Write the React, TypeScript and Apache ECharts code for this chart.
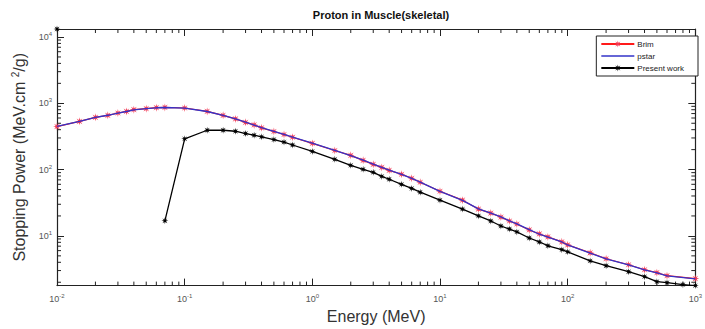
import React, { useEffect, useRef } from "react";
import * as echarts from "echarts";

const TITLE = "Proton in Muscle(skeletal)";
const X_NAME = "Energy (MeV)";
const SERIES_NAMES = ["Brim", "pstar", "Present work"];

const energyRef = [
  0.01, 0.015, 0.02, 0.025, 0.03, 0.035, 0.04, 0.05, 0.06, 0.07,
  0.1, 0.15, 0.2, 0.25, 0.3, 0.35, 0.4, 0.5, 0.6, 0.7,
  1, 1.5, 2, 2.5, 3, 3.5, 4, 5, 6, 7,
  10, 15, 20, 25, 30, 35, 40, 50, 60, 70, 90,
  100, 150, 200, 300, 400, 500, 600, 1000,
];
const brim = [
  446, 535, 614, 658, 714, 755, 801, 830, 859, 867,
  849, 755, 658, 581, 516, 472, 426, 375, 338, 308,
  248, 194, 164, 138, 120, 108, 97.5, 85, 74, 64.4,
  47.2, 34.6, 25.4, 22.1, 19.2, 16.8, 15.1, 12.3, 10.7, 9.66, 8.13,
  7.33, 5.56, 4.52, 3.67, 3.09, 2.79, 2.51, 2.27,
];
const pstar = [
  448, 533, 612, 660, 712, 752, 798, 832, 856, 864,
  846, 752, 660, 583, 518, 470, 428, 378, 340, 310,
  250, 195, 163, 139, 121, 108, 98, 84.5, 73.5, 64.8,
  47.0, 34.4, 25.6, 22.0, 19.3, 16.9, 15.2, 12.4, 10.6, 9.6, 8.1,
  7.3, 5.5, 4.5, 3.65, 3.08, 2.77, 2.5, 2.25,
];
const energyWork = [
  0.01, 0.05, 0.07, 0.1, 0.15, 0.2, 0.25, 0.3, 0.35, 0.4, 0.5, 0.6, 0.7,
  1, 1.5, 2, 2.5, 3, 3.5, 4, 5, 6, 7,
  10, 15, 20, 25, 30, 35, 40, 50, 60, 70, 90,
  100, 150, 200, 300, 400, 500, 600, 800, 1000,
];
const presentWork: (number | null)[] = [
  13200, null, 16.9, 291, 392, 392, 379, 350, 330, 312, 284, 260, 235,
  188, 143, 116, 101, 91, 79, 71.5, 60, 52, 45.6,
  34.6, 25.4, 20, 16.8, 14.1, 12.7, 11.5, 9.3, 8.1, 7.1, 6.2,
  5.75, 4.2, 3.55, 2.88, 2.43, 2.04, 1.97, 1.84, 1.78,
];
const xMinorMult = [2, 3, 4, 5, 6, 7, 8, 9];
const xDecades = [-2, -1, 0, 1, 2];
const yDecades = [0, 1, 2, 3, 4];

function starPath() {
  const pts: string[] = [];
  for (let k = 0; k < 16; k++) {
    const a = (k * Math.PI) / 8 - Math.PI / 2;
    const r = k % 2 === 0 ? 10 : 3.6;
    pts.push(`${(10 + r * Math.cos(a)).toFixed(2)} ${(10 + r * Math.sin(a)).toFixed(2)}`);
  }
  return "path://M" + pts.join(" L") + " Z";
}

export default function App() {
  const ref = useRef<HTMLDivElement>(null);
  useEffect(() => {
    document.body.style.margin = "0";
    const chart = echarts.init(ref.current!, null, { renderer: "svg" });
    const allVals = [...brim, ...pstar, ...(presentWork.filter((v) => v !== null) as number[])];
    const YMIN = Math.min(...allVals);
    const YMAX = Math.max(...allVals);
    const XMIN = Math.min(...energyRef, ...energyWork);
    const XMAX = Math.max(...energyRef, ...energyWork);
    const STAR = starPath();
    const font = "Liberation Sans";
    const axisColor = "#222";
    const labelFmt = (v: number) => `10{sup|${Math.round(Math.log10(v))}}`;
    const labelRich = {
      sup: { fontSize: 6, verticalAlign: "top", padding: [0, 0, 6, 0], color: "#555", fontFamily: font },
    };
    const baseAxis = {
      type: "log",
      logBase: 10,
      axisLine: { show: true, lineStyle: { color: axisColor, width: 1.2 } },
      axisTick: { show: true, inside: true, length: 7, lineStyle: { color: axisColor } },
      splitLine: { show: false },
      minorTick: { show: false },
    };
    const xMinors: number[][] = [];
    xDecades.forEach((d) => xMinorMult.forEach((m) => xMinors.push([m * Math.pow(10, d), YMIN])));
    const yMinors: number[][] = [];
    yDecades.forEach((d) =>
      xMinorMult.forEach((m) => {
        const v = m * Math.pow(10, d);
        if (v > YMIN && v < YMAX) yMinors.push([XMIN, v]);
      })
    );
    const tickStyle = { stroke: axisColor, lineWidth: 1 };

    chart.setOption({
      animation: false,
      grid: { left: 57, right: 4, top: 29, bottom: 42, containLabel: false },
      graphic: [
        {
          type: "text",
          x: 381,
          y: 15,
          style: {
            text: TITLE,
            fontSize: 11,
            fontWeight: "bold",
            fontFamily: font,
            fill: "#111",
            textAlign: "center",
            textVerticalAlign: "middle",
          },
        },
      ],
      legend: {
        data: [
          { name: "Brim" },
          { name: "pstar", icon: "path://M0 0 H33 V1.4 H0 Z", itemStyle: { color: "#3333c8" } },
          { name: "Present work" },
        ],
        orient: "vertical",
        right: 7,
        top: 36,
        itemWidth: 33,
        itemHeight: 9,
        itemGap: 4,
        padding: [4, 14, 4, 4],
        backgroundColor: "#fff",
        borderColor: "#222",
        borderWidth: 1,
        borderRadius: 0,
        textStyle: { fontSize: 8, fontFamily: font, color: "#222", padding: [0, 0, 0, -2] },
      },
      xAxis: [
        {
          ...baseAxis,
          min: XMIN,
          max: XMAX,
          position: "bottom",
          name: X_NAME,
          nameLocation: "middle",
          nameGap: 17,
          nameTextStyle: { fontSize: 16, fontFamily: font, color: "#333", verticalAlign: "top" },
          axisLabel: {
            formatter: labelFmt,
            rich: labelRich,
            fontSize: 9,
            color: "#555",
            fontFamily: font,
            margin: 7,
          },
        },
        {
          ...baseAxis,
          min: XMIN,
          max: XMAX,
          position: "top",
          axisLabel: { show: false },
        },
      ],
      yAxis: [
        {
          ...baseAxis,
          min: YMIN,
          max: YMAX,
          position: "left",
          name: "Stopping Power (MeV.cm {sup|2}/g)",
          nameLocation: "middle",
          nameGap: 26,
          nameTextStyle: {
            fontSize: 16,
            fontFamily: font,
            color: "#333",
            rich: { sup: { fontSize: 10, verticalAlign: "top", padding: [0, 0, 8, 0], fontFamily: font, color: "#333" } },
          },
          axisLabel: {
            formatter: labelFmt,
            rich: labelRich,
            fontSize: 9,
            color: "#555",
            fontFamily: font,
            margin: 5,
            showMinLabel: false,
            showMaxLabel: false,
          },
        },
        {
          ...baseAxis,
          min: YMIN,
          max: YMAX,
          position: "right",
          axisLabel: { show: false },
        },
      ],
      series: [
        {
          name: "Brim",
          type: "line",
          data: energyRef.map((e, i) => [e, brim[i]]),
          symbol: STAR,
          symbolSize: 8,
          showAllSymbol: true,
          lineStyle: { color: "#ff1a1a", width: 1.2 },
          itemStyle: { color: "#f23a55" },
          z: 3,
        },
        {
          name: "pstar",
          type: "line",
          data: energyRef.map((e, i) => [e, pstar[i]]),
          symbol: "none",
          lineStyle: { color: "#3333c8", width: 1.3 },
          itemStyle: { color: "#3333c8" },
          z: 4,
        },
        {
          name: "Present work",
          type: "line",
          data: energyWork.map((e, i) => [e, presentWork[i] === null ? "-" : presentWork[i]]),
          symbol: STAR,
          symbolSize: 7,
          showAllSymbol: true,
          connectNulls: false,
          lineStyle: { color: "#000", width: 1.3 },
          itemStyle: { color: "#000" },
          z: 5,
        },
        {
          type: "custom",
          silent: true,
          data: xMinors,
          renderItem: (_p: any, api: any) => {
            const v = api.value(0);
            const b = api.coord([v, YMIN]);
            const t = api.coord([v, YMAX]);
            return {
              type: "group",
              children: [
                { type: "line", shape: { x1: b[0], y1: b[1], x2: b[0], y2: b[1] - 4 }, style: tickStyle },
                { type: "line", shape: { x1: t[0], y1: t[1], x2: t[0], y2: t[1] + 4 }, style: tickStyle },
              ],
            };
          },
          z: 1,
        },
        {
          type: "custom",
          silent: true,
          data: yMinors,
          renderItem: (_p: any, api: any) => {
            const v = api.value(1);
            const l = api.coord([XMIN, v]);
            const r = api.coord([XMAX, v]);
            return {
              type: "group",
              children: [
                { type: "line", shape: { x1: l[0], y1: l[1], x2: l[0] + 4, y2: l[1] }, style: tickStyle },
                { type: "line", shape: { x1: r[0], y1: r[1], x2: r[0] - 4, y2: r[1] }, style: tickStyle },
              ],
            };
          },
          z: 1,
        },
      ],
    });
    return () => chart.dispose();
  }, []);
  return <div ref={ref} style={{ width: 705, height: 329 }} />;
}
